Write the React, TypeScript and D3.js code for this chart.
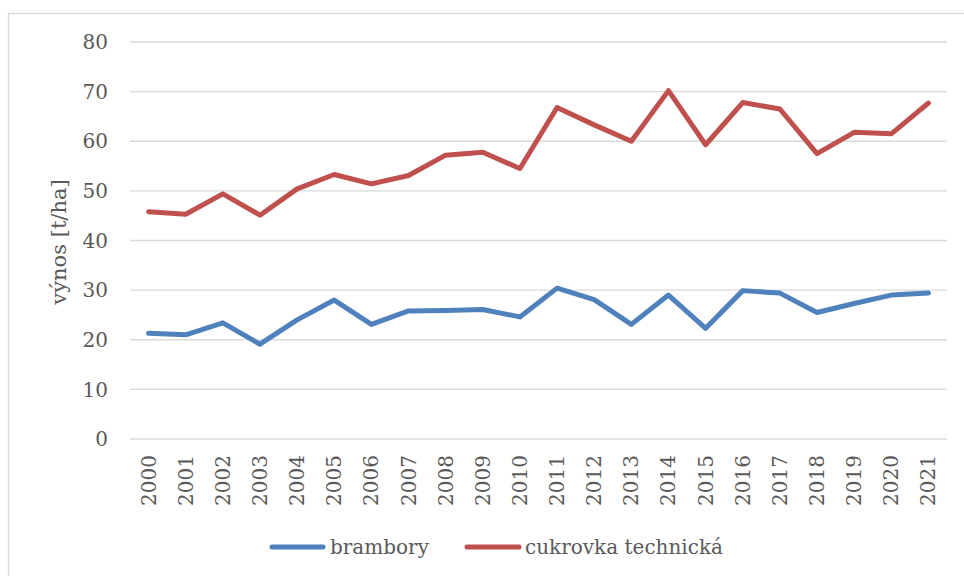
import React from "react";
import * as d3 from "d3";

const years = ["2000","2001","2002","2003","2004","2005","2006","2007","2008","2009","2010","2011","2012","2013","2014","2015","2016","2017","2018","2019","2020","2021"];
const brambory = [21.3,21.0,23.4,19.1,24.0,28.0,23.1,25.8,25.9,26.1,24.6,30.4,28.1,23.1,29.0,22.3,29.9,29.4,25.5,27.3,29.0,29.4];
const cukrovka = [45.8,45.3,49.4,45.1,50.4,53.3,51.4,53.1,57.2,57.8,54.5,66.8,63.3,60.0,70.2,59.3,67.8,66.5,57.5,61.8,61.5,67.7];
const yTicks = [0,10,20,30,40,50,60,70,80];
const seriesNames = ["brambory", "cukrovka technická"];
const seriesColors = ["#4f81bd", "#c0504d"];

const W = 964, H = 576;
const left = 130, right = 947, top = 42, bottom = 439;
const font = "'DejaVu Serif', serif";
const textColor = "#595959";

export default function App() {
  const x = d3.scaleBand<string>().domain(years).range([left, right]);
  const y = d3.scaleLinear().domain([0, 80]).range([bottom, top]);
  const line = d3.line<number>()
    .x((_, i) => (x(years[i]) as number) + x.bandwidth() / 2)
    .y((d) => y(d));
  const series = [brambory, cukrovka];
  return (
    <svg width={W} height={H} style={{ position: "absolute", left: 0, top: 0, background: "#fff" }}>
      <rect x={8.5} y={13.5} width={W} height={H} fill="#fff" stroke="#d9d9d9" strokeWidth={1.3} />
      {yTicks.map((t) => (
        <g key={t}>
          <line x1={left} x2={right} y1={y(t)} y2={y(t)} stroke="#d9d9d9" strokeWidth={1.3} />
          <text x={108} y={y(t)} dy="0.36em" textAnchor="end" fontFamily={font} fontSize={20} fill={textColor}>{t}</text>
        </g>
      ))}
      {years.map((yr) => {
        const cx = (x(yr) as number) + x.bandwidth() / 2;
        return (
          <text key={yr} transform={`translate(${cx + 7},455) rotate(-90)`} textAnchor="end" fontFamily={font} fontSize={20} fill={textColor}>{yr}</text>
        );
      })}
      <text transform={`translate(66,242) rotate(-90)`} textAnchor="middle" fontFamily={font} fontSize={21} fill={textColor}>výnos [t/ha]</text>
      {series.map((s, i) => (
        <path key={i} d={line(s) || ""} fill="none" stroke={seriesColors[i]} strokeWidth={5} strokeLinecap="round" strokeLinejoin="round" />
      ))}
      <line x1={272} x2={323} y1={547} y2={547} stroke={seriesColors[0]} strokeWidth={5} strokeLinecap="round" />
      <text x={330} y={547} dy="0.36em" fontFamily={font} fontSize={20} fill={textColor}>{seriesNames[0]}</text>
      <line x1={467} x2={519} y1={547} y2={547} stroke={seriesColors[1]} strokeWidth={5} strokeLinecap="round" />
      <text x={525} y={547} dy="0.36em" fontFamily={font} fontSize={20} fill={textColor}>{seriesNames[1]}</text>
    </svg>
  );
}
